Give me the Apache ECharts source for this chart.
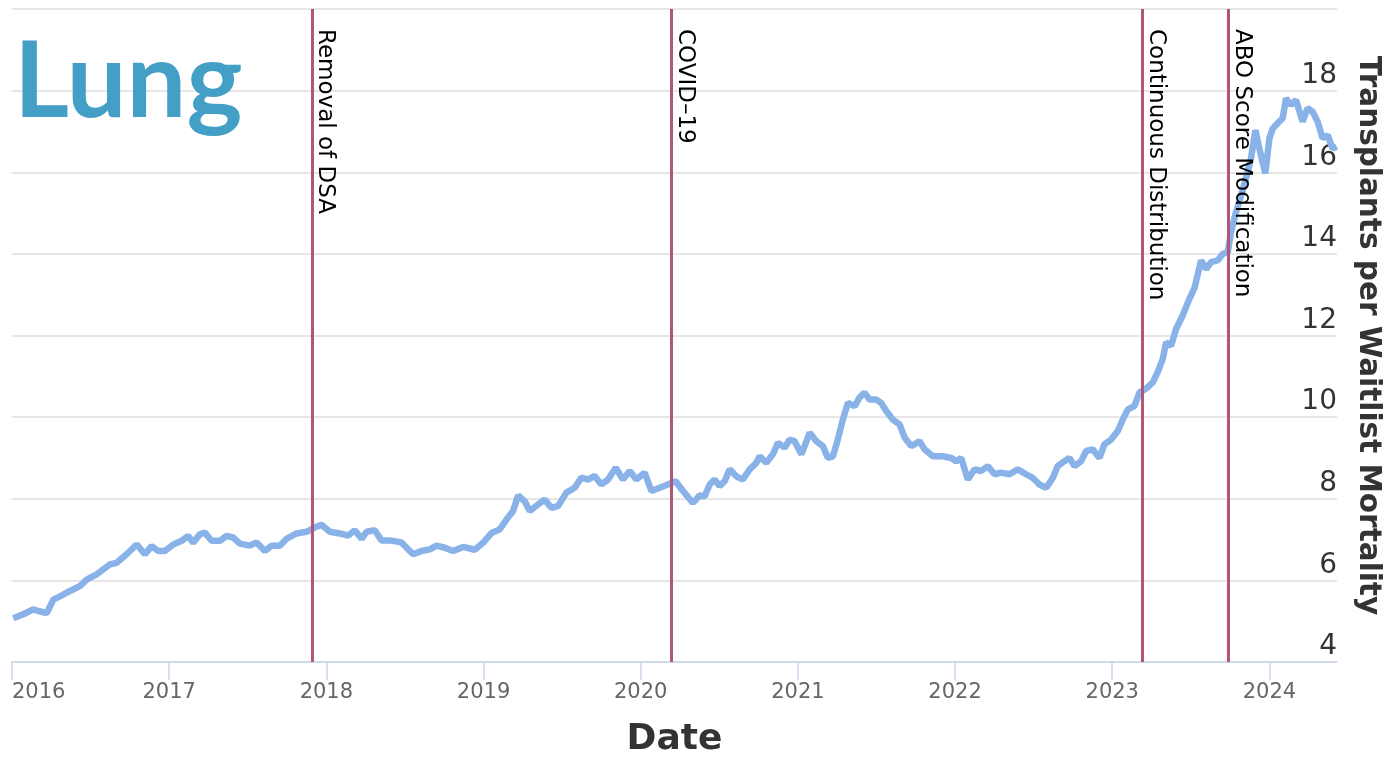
<!DOCTYPE html>
<html>
<head>
<meta charset="utf-8">
<script src="https://cdn.jsdelivr.net/npm/echarts@6/dist/echarts.min.js"></script>
<style>
html,body{margin:0;padding:0;background:#fff;}
#chart{width:1388px;height:757px;}
</style>
</head>
<body>
<div id="chart"></div>
<script>
// Decimal-year positions of the sampled points
const years = [
2016.008,2016.072,2016.135,2016.167,2016.221,2016.263,2016.305,2016.369,2016.432,2016.475,
2016.539,2016.623,2016.666,2016.729,2016.793,2016.846,2016.888,2016.930,2016.973,2017.026,
2017.079,2017.121,2017.153,2017.195,2017.227,2017.270,2017.323,2017.365,2017.407,2017.450,
2017.513,2017.556,2017.609,2017.651,2017.704,2017.747,2017.810,2017.874,2017.927,2017.969,
2018.022,2018.086,2018.139,2018.181,2018.224,2018.256,2018.308,2018.351,2018.404,2018.478,
2018.552,2018.605,2018.658,2018.701,2018.753,2018.806,2018.870,2018.944,2018.997,2019.050,
2019.103,2019.146,2019.188,2019.220,2019.262,2019.294,2019.347,2019.389,2019.432,2019.474,
2019.527,2019.580,2019.623,2019.665,2019.707,2019.750,2019.792,2019.841,2019.887,2019.930,
2019.972,2020.025,2020.068,2020.121,2020.173,2020.222,2020.269,2020.332,2020.375,2020.407,
2020.439,2020.470,2020.502,2020.534,2020.566,2020.608,2020.650,2020.693,2020.736,2020.757,
2020.799,2020.841,2020.873,2020.916,2020.947,2020.979,2021.022,2021.043,2021.075,2021.117,
2021.159,2021.191,2021.223,2021.254,2021.286,2021.318,2021.361,2021.392,2021.424,2021.456,
2021.499,2021.530,2021.562,2021.604,2021.647,2021.679,2021.721,2021.774,2021.806,2021.859,
2021.922,2021.976,2022.007,2022.039,2022.081,2022.124,2022.166,2022.208,2022.251,2022.293,
2022.346,2022.399,2022.452,2022.495,2022.537,2022.580,2022.622,2022.653,2022.696,2022.728,
2022.760,2022.802,2022.834,2022.876,2022.919,2022.950,2022.993,2023.035,2023.067,2023.099,
2023.141,2023.173,2023.216,2023.258,2023.289,2023.321,2023.343,2023.375,2023.406,2023.448,
2023.491,2023.523,2023.565,2023.597,2023.629,2023.671,2023.703,2023.735,2023.756,2023.788,
2023.820,2023.851,2023.883,2023.911,2023.936,2023.974,2024.000,2024.021,2024.052,2024.084,
2024.106,2024.138,2024.169,2024.211,2024.243,2024.275,2024.307,2024.339,2024.371,2024.402,
2024.428
];
// Transplants per waitlist mortality
const ratios = [
5.07,5.17,5.29,5.25,5.20,5.53,5.61,5.74,5.86,6.02,
6.15,6.39,6.43,6.64,6.88,6.64,6.84,6.72,6.72,6.88,
6.97,7.09,6.92,7.13,7.17,6.97,6.97,7.09,7.05,6.90,
6.85,6.93,6.72,6.85,6.85,7.02,7.15,7.19,7.30,7.36,
7.19,7.15,7.10,7.23,7.02,7.19,7.23,6.98,6.98,6.93,
6.64,6.72,6.76,6.85,6.80,6.72,6.82,6.75,6.92,7.16,
7.25,7.49,7.70,8.08,7.94,7.70,7.86,7.98,7.78,7.82,
8.15,8.27,8.52,8.47,8.56,8.35,8.47,8.76,8.47,8.68,
8.47,8.64,8.19,8.27,8.35,8.43,8.19,7.90,8.08,8.06,
8.35,8.47,8.31,8.43,8.72,8.55,8.47,8.72,8.88,9.04,
8.88,9.09,9.37,9.25,9.45,9.41,9.09,9.29,9.62,9.41,
9.29,9.00,9.04,9.45,9.94,10.35,10.27,10.48,10.60,10.43,
10.43,10.35,10.15,9.94,9.82,9.50,9.29,9.41,9.21,9.04,
9.04,9.00,8.92,9.00,8.47,8.72,8.68,8.80,8.60,8.64,
8.60,8.72,8.60,8.51,8.35,8.27,8.51,8.80,8.92,9.00,
8.80,8.92,9.17,9.21,9.00,9.33,9.45,9.66,9.94,10.19,
10.27,10.60,10.70,10.85,11.10,11.42,11.83,11.75,12.16,12.49,
12.90,13.16,13.84,13.63,13.80,13.84,14.00,14.04,14.54,15.03,
15.43,15.85,16.34,17.03,16.58,15.97,16.83,17.07,17.20,17.32,
17.81,17.65,17.77,17.24,17.57,17.48,17.24,16.83,16.91,16.58,
16.63
];
// Policy events (decimal year) and their labels
const eventNames = ['Removal of DSA', 'COVID\u201319', 'Continuous Distribution', 'ABO Score Modification'];
const eventYears = [2017.908, 2020.197, 2023.192, 2023.739];
// Axis ticks
const xTickYears = [2016, 2017, 2018, 2019, 2020, 2021, 2022, 2023, 2024];
const yMin = 4, yMax = 20, yStep = 2;

const lineData = years.map((y, i) => [y, ratios[i]]);
const markData = eventYears.map((y, i) => [
  { name: eventNames[i], xAxis: y, yAxis: yMax },
  { xAxis: y, yAxis: yMin }
]);

const chart = echarts.init(document.getElementById('chart'), null, { renderer: 'canvas' });
chart.setOption({
  animation: false,
  backgroundColor: '#ffffff',
  title: {
    text: 'Lung',
    left: 9,
    top: 25,
    textStyle: { fontFamily: 'Lato', fontWeight: 'bold', fontSize: 106, color: '#439fc6' }
  },
  grid: { left: 12, right: 51, top: 9, bottom: 95, containLabel: false, outerBoundsMode: 'none' },
  xAxis: {
    type: 'value',
    min: 2016,
    max: 2024.43,
    name: 'Date',
    nameLocation: 'middle',
    nameGap: 60,
    nameTextStyle: { fontFamily: 'DejaVu Sans', fontWeight: 'bold', fontSize: 36, color: '#333333' },
    axisLine: { show: true, lineStyle: { color: '#ccd6eb', width: 1.5 } },
    axisTick: { show: true, length: 18, customValues: xTickYears, lineStyle: { color: '#ccd6eb', width: 1.5 } },
    axisLabel: {
      customValues: xTickYears,
      formatter: v => String(Math.round(v)),
      fontFamily: 'DejaVu Sans', fontSize: 21, color: '#666666',
      margin: 20, alignMinLabel: 'left'
    },
    splitLine: { show: false }
  },
  yAxis: {
    type: 'value',
    position: 'right',
    min: yMin,
    max: yMax,
    interval: yStep,
    name: 'Transplants per Waitlist Mortality',
    nameLocation: 'middle',
    nameRotate: -90,
    nameGap: 16,
    nameTextStyle: { fontFamily: 'DejaVu Sans', fontWeight: 'bold', fontSize: 29.5, color: '#333333' },
    axisLine: { show: false },
    axisTick: { show: false },
    axisLabel: {
      inside: true,
      margin: 0,
      showMaxLabel: false,
      verticalAlign: 'bottom',
      padding: [0, 0, 1, 0],
      fontFamily: 'DejaVu Sans', fontSize: 28, color: '#333333'
    },
    splitLine: { show: true, lineStyle: { color: '#e6e6e6', width: 2 } }
  },
  series: [
    {
      type: 'line',
      z: -1,
      data: [],
      silent: true,
      markLine: {
        silent: true,
        symbol: ['none', 'none'],
        lineStyle: { color: '#b25679', width: 3, type: 'solid' },
        label: {
          show: true,
          position: 'insideStartTop',
          formatter: '{b}',
          distance: [20, 2],
          fontFamily: 'DejaVu Sans', fontSize: 23, color: '#000000'
        },
        emphasis: { disabled: true },
        data: markData
      }
    },
    {
      type: 'line',
      data: lineData,
      showSymbol: false,
      symbol: 'none',
      lineStyle: { color: '#88b2e8', width: 6.5 },
      itemStyle: { color: '#88b2e8' },
      z: 3
    }
  ]
});
</script>
</body>
</html>
